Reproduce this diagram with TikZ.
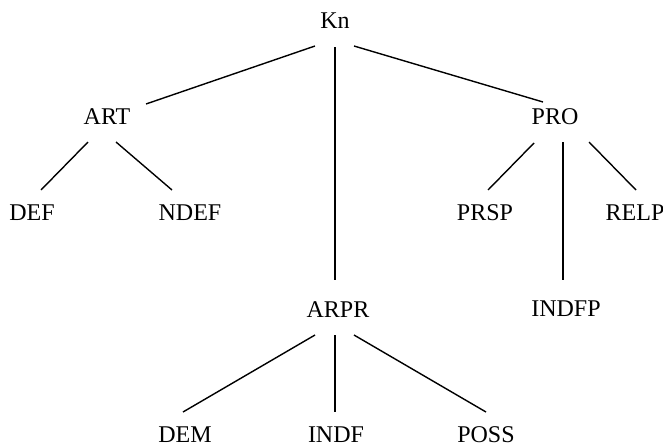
\documentclass[tikz,border=0pt]{standalone}
\usepackage{fontspec}
\setmainfont{Liberation Serif}
\begin{document}
\begin{tikzpicture}[x=1pt,y=-1pt,
  lbl/.style={anchor=base,inner sep=0pt,font=\fontsize{24}{28}\selectfont},
  edge/.style={line width=1.4pt,black}]
\useasboundingbox (0,0) rectangle (663,447);
\node[lbl] (Kn) at (335,28) {Kn};
\node[lbl] (ART) at (107,124) {ART};
\node[lbl] (PRO) at (555,124) {PRO};
\node[lbl] (DEF) at (32,220) {DEF};
\node[lbl] (NDEF) at (190,220) {NDEF};
\node[lbl] (PRSP) at (485,220) {PRSP};
\node[lbl] (RELP) at (635,220) {RELP};
\node[lbl] (ARPR) at (338,317) {ARPR};
\node[lbl] (INDFP) at (566,316) {INDFP};
\node[lbl] (DEM) at (185,442) {DEM};
\node[lbl] (INDF) at (336,442) {INDF};
\node[lbl] (POSS) at (486,442) {POSS};
\draw[edge] ([shift={(-20,18)}]Kn.base) -- ([shift={(39,-20)}]ART.base);
\draw[edge] ([shift={(0,19)}]Kn.base) -- ([shift={(-3,-37)}]ARPR.base);
\draw[edge] ([shift={(19,18)}]Kn.base) -- ([shift={(-12,-22)}]PRO.base);
\draw[edge] ([shift={(-19,18)}]ART.base) -- ([shift={(9,-30)}]DEF.base);
\draw[edge] ([shift={(9,18)}]ART.base) -- ([shift={(-18,-30)}]NDEF.base);
\draw[edge] ([shift={(-21,19)}]PRO.base) -- ([shift={(3,-30)}]PRSP.base);
\draw[edge] ([shift={(8,18)}]PRO.base) -- ([shift={(-3,-36)}]INDFP.base);
\draw[edge] ([shift={(34,18)}]PRO.base) -- ([shift={(1,-30)}]RELP.base);
\draw[edge] ([shift={(-23,18)}]ARPR.base) -- ([shift={(-2,-30)}]DEM.base);
\draw[edge] ([shift={(-3,18)}]ARPR.base) -- ([shift={(-1,-30)}]INDF.base);
\draw[edge] ([shift={(16,18)}]ARPR.base) -- ([shift={(0,-30)}]POSS.base);
\end{tikzpicture}
\end{document}
